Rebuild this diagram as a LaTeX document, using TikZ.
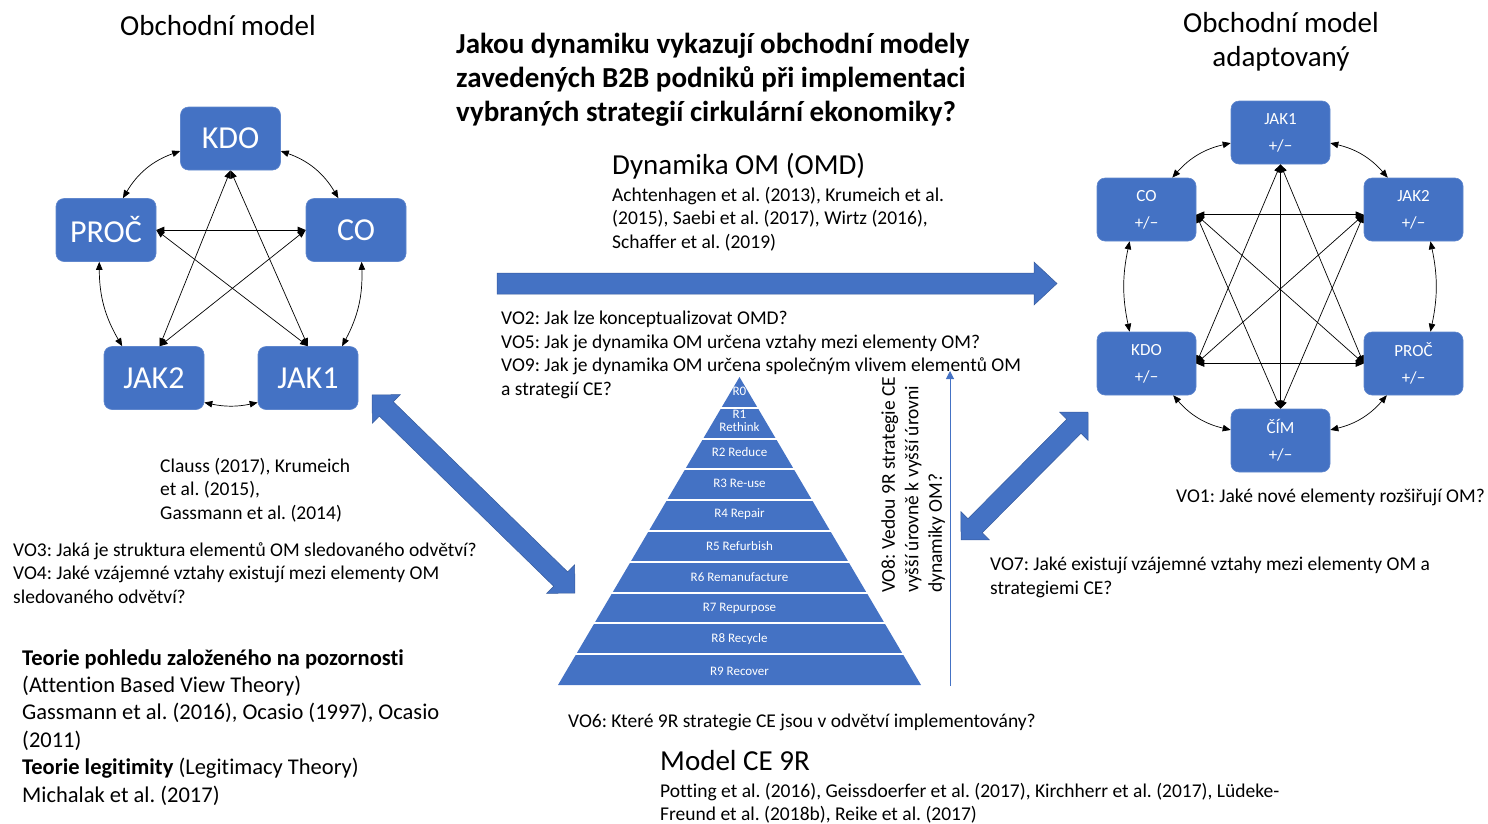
\documentclass[tikz,border=0pt]{standalone}
\usepackage{fontspec}
\setmainfont{Carlito}[Ligatures=NoCommon]
\usetikzlibrary{arrows.meta,calc}
\definecolor{obl}{HTML}{4472C4}
\newcommand\blockdbl[1]{\path[bigarrow] (-#1,0) -- ({-#1+20},-20) -- ({-#1+20},-10) -- ({#1-20},-10) -- ({#1-20},-20) -- (#1,0) -- ({#1-20},20) -- ({#1-20},10) -- ({-#1+20},10) -- ({-#1+20},20) -- cycle;}
\frenchspacing
\begin{document}
\begin{tikzpicture}[x=1pt,y=-1pt,
  box/.style={fill=obl, draw=obl!85!white, line width=0.6pt, rounded corners=8pt, minimum width=100pt, minimum height=63pt, text=white, inner sep=0pt},
  lbox/.style={box, font=\fontsize{32}{38}\selectfont},
  rbox/.style={box, minimum width=99pt, font=\fontsize{17}{27}\selectfont, align=center},
  conn/.style={{Triangle[length=8pt,width=6.5pt]}-{Triangle[length=8pt,width=6.5pt]}, line width=0.7pt},
  txt/.style={inner sep=0pt, align=left, text=black},
  t19/.style={txt, font=\fontsize{19.5}{23.5}\selectfont},
  big/.style={txt, font=\fontsize{29}{34}\selectfont},
  bigarrow/.style={fill=obl, draw=obl!80!black, line width=0.5pt},
  plabel/.style={text=white, font=\fontsize{13}{12.5}\selectfont, inner sep=0pt, align=center}
]
\useasboundingbox (0,0) rectangle (1488,823);

% ---------- left business model ----------
\node[big, anchor=center] (lhead) at (218,26) {Obchodní model};
\node[lbox] (kdo) at (230.5,138.5) {KDO};
\node[lbox] (proc) at (106,230) {PROČ};
\node[lbox] (co) at (356,230) {CO};
\node[lbox] (jak2) at (154,378) {JAK2};
\node[lbox] (jak1) at (308,378) {JAK1};

\draw[conn] (kdo.south) -- (jak2.80);
\draw[conn] (kdo.south) -- (jak1.north);
\draw[conn] (proc.east) -- (co.west);
\draw[conn] (proc.east) -- (jak1.north);
\draw[conn] (co.west) -- (jak2.80);
\draw[conn] (kdo.194) to[bend right=20] (proc.62);
\draw[conn] (kdo.-14) to[bend left=20] (co.119);
\draw[conn] (proc.258) to[bend right=15] (jak2.135);
\draw[conn] (co.-80) to[bend left=15] (jak1.43);
\draw[conn] (jak2.-26) to[bend right=12] (jak1.206);

% ---------- right adapted model ----------
\node[big, anchor=north, align=center] (rhead) at (1281,12) {Obchodní model\\adaptovaný};
\node[rbox] (rjak1) at (1280.5,132.5) {JAK1\\+/−};
\node[rbox] (rco) at (1146.5,209.5) {CO\\+/−};
\node[rbox] (rjak2) at (1413.5,209.5) {JAK2\\+/−};
\node[rbox] (rkdo) at (1146.5,363.5) {KDO\\+/−};
\node[rbox] (rproc) at (1413.5,363.5) {PROČ\\+/−};
\node[rbox] (rcim) at (1280.5,440.5) {ČÍM\\+/−};

\draw[conn] (rjak1.192) to[bend right=18] (rco.51);
\draw[conn] (rjak1.-12) to[bend left=18] (rjak2.129);
\draw[conn] (rco.242) to[bend right=12] (rkdo.118);
\draw[conn] (rjak2.298) to[bend left=12] (rproc.62);
\draw[conn] (rkdo.-50) to[bend right=18] (rcim.168);
\draw[conn] (rproc.230) to[bend left=18] (rcim.12);

\draw[conn] (rjak1.south) -- (rcim.north);
\draw[conn] (rjak1.south) -- (rkdo.east);
\draw[conn] (rjak1.south) -- (rproc.west);
\draw[conn] (rjak2.186) -- (rco.-6);
\draw[conn] (rjak2.186) -- (rkdo.east);
\draw[conn] (rjak2.186) -- (rcim.north);
\draw[conn] (rco.-6) -- (rproc.west);
\draw[conn] (rco.-6) -- (rcim.north);
\draw[conn] (rkdo.east) -- (rproc.west);

\node[t19, anchor=west] (vo1) at (1176,497) {VO1: Jaké nové elementy rozšiřují OM?};

% ---------- title and OMD ----------
\node[txt, anchor=north west, font=\fontsize{29}{34}\selectfont\bfseries] (title) at (456,33) {Jakou dynamiku vykazují obchodní modely\\zavedených B2B podniků při implementaci\\vybraných strategií cirkulární ekonomiky?};
\node[big, anchor=west] (omd) at (612,166) {Dynamika OM (OMD)};
\node[t19, anchor=north west] (omdcit) at (612,187) {Achtenhagen et al. (2013), Krumeich et al.\\(2015), Saebi et al. (2017), Wirtz (2016),\\Schaffer et al. (2019)};
\path[bigarrow] (497,273) -- (1034,273) -- (1034,262) -- (1057,283.5) -- (1034,305) -- (1034,294) -- (497,294) -- cycle;
\node[t19, anchor=north west] (vo259) at (501,311) {VO2: Jak lze konceptualizovat OMD?\\VO5: Jak je dynamika OM určena vztahy mezi elementy OM?\\VO9: Jak je dynamika OM určena společným vlivem elementů OM\\a strategií CE?};

% ---------- left texts ----------
\node[t19, anchor=north west] (clauss) at (160,458) {Clauss (2017), Krumeich\\et al. (2015),\\Gassmann et al. (2014)};
\node[t19, anchor=north west] (vo34) at (13,542) {VO3: Jaká je struktura elementů OM sledovaného odvětví?\\VO4: Jaké vzájemné vztahy existují mezi elementy OM\\sledovaného odvětví?};
\node[txt, anchor=north west, font=\fontsize{22.5}{27.4}\selectfont] (theory) at (22,649) {\textbf{Teorie pohledu založeného na pozornosti}\\(Attention Based View Theory)\\Gassmann et al. (2016), Ocasio (1997), Ocasio\\(2011)\\\textbf{Teorie legitimity} (Legitimacy Theory)\\Michalak et al. (2017)};

% ---------- diagonal block arrows ----------
\begin{scope}[shift={(473.5,494)}, rotate=-44.3]
\blockdbl{141.8}
\end{scope}
\begin{scope}[shift={(1024.5,476)}, rotate=45.2]
\blockdbl{90.1}
\end{scope}

% ---------- pyramid ----------
\fill[obl] (739.5,377) -- (921,685) -- (558,685) -- cycle;
\foreach \k in {1,...,9} {
  \draw[white, line width=2pt] ({739.5-\k*18.15-3},{377+\k*30.8}) -- ({739.5+\k*18.15+3},{377+\k*30.8});
}
\node[plabel] (p0) at (739.5,391) {R0};
\node[plabel] (p1) at (739.5,421) {R1\\Rethink};
\node[plabel] (p2) at (739.5,452) {R2 Reduce};
\node[plabel] (p3) at (739.5,483) {R3 Re-use};
\node[plabel] (p4) at (739.5,514) {R4 Repair};
\node[plabel] (p5) at (739.5,546) {R5 Refurbish};
\node[plabel] (p6) at (739.5,577) {R6 Remanufacture};
\node[plabel] (p7) at (739.5,608) {R7 Repurpose};
\node[plabel] (p8) at (739.5,639) {R8 Recycle};
\node[plabel] (p9) at (739.5,671) {R9 Recover};

\coordinate (vbot) at (950,686);
\coordinate (vtop) at (950,371);
\draw[obl, line width=1pt, -{Triangle[length=8pt,width=8pt]}] (vbot) -- (vtop);
\node[t19, rotate=90, anchor=north west] (vo8) at (881,593) {VO8: Vedou 9R strategie CE\\vyšší úrovně k vyšší úrovni\\dynamiky OM?};

\node[t19, anchor=north west] (vo7) at (990,557) {VO7: Jaké existují vzájemné vztahy mezi elementy OM a\\strategiemi CE?};

% ---------- bottom texts ----------
\node[t19, anchor=west] (vo6) at (568,722) {VO6: Které 9R strategie CE jsou v odvětví implementovány?};
\node[big, anchor=west] (ce9r) at (660,761) {Model CE 9R};
\node[t19, anchor=north west] (potting) at (660,783) {Potting et al. (2016), Geissdoerfer et al. (2017), Kirchherr et al. (2017), Lüdeke-\\Freund et al. (2018b), Reike et al. (2017)};
\end{tikzpicture}
\end{document}
